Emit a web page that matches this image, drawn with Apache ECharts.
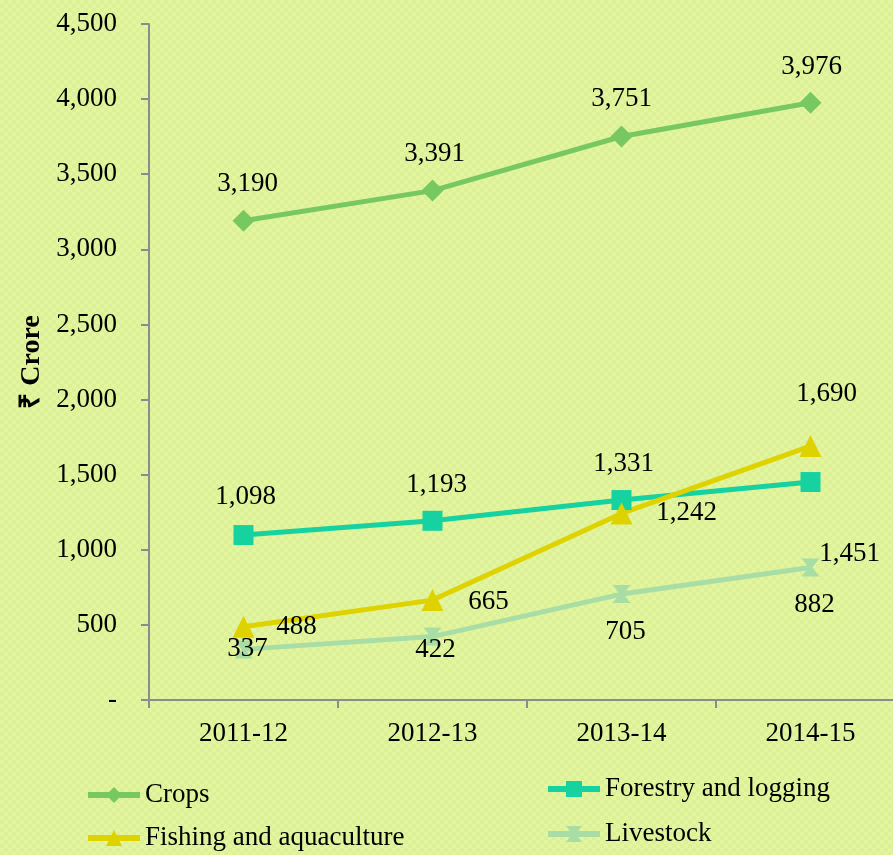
<!DOCTYPE html>
<html>
<head>
<meta charset="utf-8">
<script src="https://cdn.jsdelivr.net/npm/echarts@6/dist/echarts.min.js"></script>
<style>
  html, body {
    margin: 0;
    padding: 0;
    overflow: hidden;
  }
  body {
    width: 893px;
    height: 855px;
    background-color: #e4f59f;
    background-image:
      linear-gradient(45deg, #dcf098 25%, transparent 25%, transparent 75%, #dcf098 75%),
      linear-gradient(45deg, #dcf098 25%, transparent 25%, transparent 75%, #dcf098 75%);
    background-size: 8px 8px;
    background-position: 0 0, 4px 4px;
  }
  #chart {
    width: 912px;
    height: 855px;
  }
</style>
</head>
<body>
<div id="chart"></div>
<script>
// data
var years = ['2011-12', '2012-13', '2013-14', '2014-15'];
var crops = [3190, 3391, 3751, 3976];
var forestry = [1098, 1193, 1331, 1451];
var fishing = [488, 665, 1242, 1690];
var livestock = [337, 422, 705, 882];
var yTicks = ['-', '500', '1,000', '1,500', '2,000', '2,500', '3,000', '3,500', '4,000', '4,500'];

// label offsets (px) from each point, as in the original picture
var cropsOff = [[4, -37], [2, -37], [0, -38], [1, -36]];
var forestryOff = [[2, -38], [4, -36], [2, -36], [39, 72]];
var fishingOff = [[53, 0], [56, 2], [65, -1], [16, -52]];
var livestockOff = [[4, 0], [3, 13], [4, 38], [4, 37]];

var font = '"Liberation Serif", "Times New Roman", serif';

function fmt (v) {
  return v.toLocaleString('en-US');
}

function withLabels (vals, offs) {
  return vals.map(function (v, i) {
    return {value: v, label: {offset: offs[i]}};
  });
}

function makeSeries (name, vals, offs, color, symbol, size) {
  return {
    name: name,
    type: 'line',
    symbol: symbol,
    symbolSize: size,
    lineStyle: {color: color, width: 5},
    itemStyle: {color: color},
    label: {
      show: true,
      position: 'inside',
      color: '#000',
      fontFamily: font,
      fontSize: 27,
      formatter: function (p) {
        return fmt(p.value);
      }
    },
    emphasis: {disabled: true},
    z: 2,
    data: withLabels(vals, offs)
  };
}

var hourglass = 'path://M0,0 L10,0 L6,5 L10,10 L0,10 L4,5 Z';

var chart = echarts.init(document.getElementById('chart'));

function legendAt (name, left, top) {
  return {
    data: [name],
    left: left,
    top: top,
    padding: 0,
    itemWidth: 52,
    itemHeight: 20,
    itemGap: 6,
    lineStyle: {width: 6},
    textStyle: {color: '#000', fontFamily: font, fontSize: 27, lineHeight: 28}
  };
}

chart.setOption({
  backgroundColor: 'transparent',
  animation: false,
  legend: [
    legendAt('Crops', 85, 781),
    legendAt('Forestry and logging', 545, 775),
    legendAt('Fishing and aquaculture', 85, 824),
    legendAt('Livestock', 545, 820)
  ],
  grid: {
    left: 149,
    top: 24,
    width: 756,
    height: 676
  },
  xAxis: {
    type: 'category',
    data: years,
    boundaryGap: true,
    axisLine: {lineStyle: {color: '#8c8c8c', width: 2}},
    axisTick: {show: true, length: 8, lineStyle: {color: '#8c8c8c', width: 2}},
    axisLabel: {
      color: '#000',
      fontFamily: font,
      fontSize: 27,
      margin: 20
    },
    splitLine: {show: false}
  },
  yAxis: {
    type: 'value',
    min: 0,
    max: 4500,
    interval: 500,
    name: '₹ Crore',
    nameLocation: 'middle',
    nameGap: 102,
    nameTextStyle: {color: '#000', fontFamily: font, fontSize: 28, fontWeight: 'bold'},
    axisLine: {show: true, lineStyle: {color: '#8c8c8c', width: 2}},
    axisTick: {show: true, length: 8, lineStyle: {color: '#8c8c8c', width: 2}},
    axisLabel: {
      color: '#000',
      fontFamily: font,
      fontSize: 27,
      margin: 32,
      formatter: function (v) {
        return yTicks[Math.round(v / 500)];
      }
    },
    splitLine: {show: false}
  },
  series: [
    makeSeries('Crops', crops, cropsOff, '#78c862', 'diamond', 22),
    makeSeries('Forestry and logging', forestry, forestryOff, '#16d2a0', 'rect', 20),
    makeSeries('Fishing and aquaculture', fishing, fishingOff, '#ded200', 'triangle', 22),
    makeSeries('Livestock', livestock, livestockOff, '#a8dea6', hourglass, 18)
  ]
});
</script>
</body>
</html>
